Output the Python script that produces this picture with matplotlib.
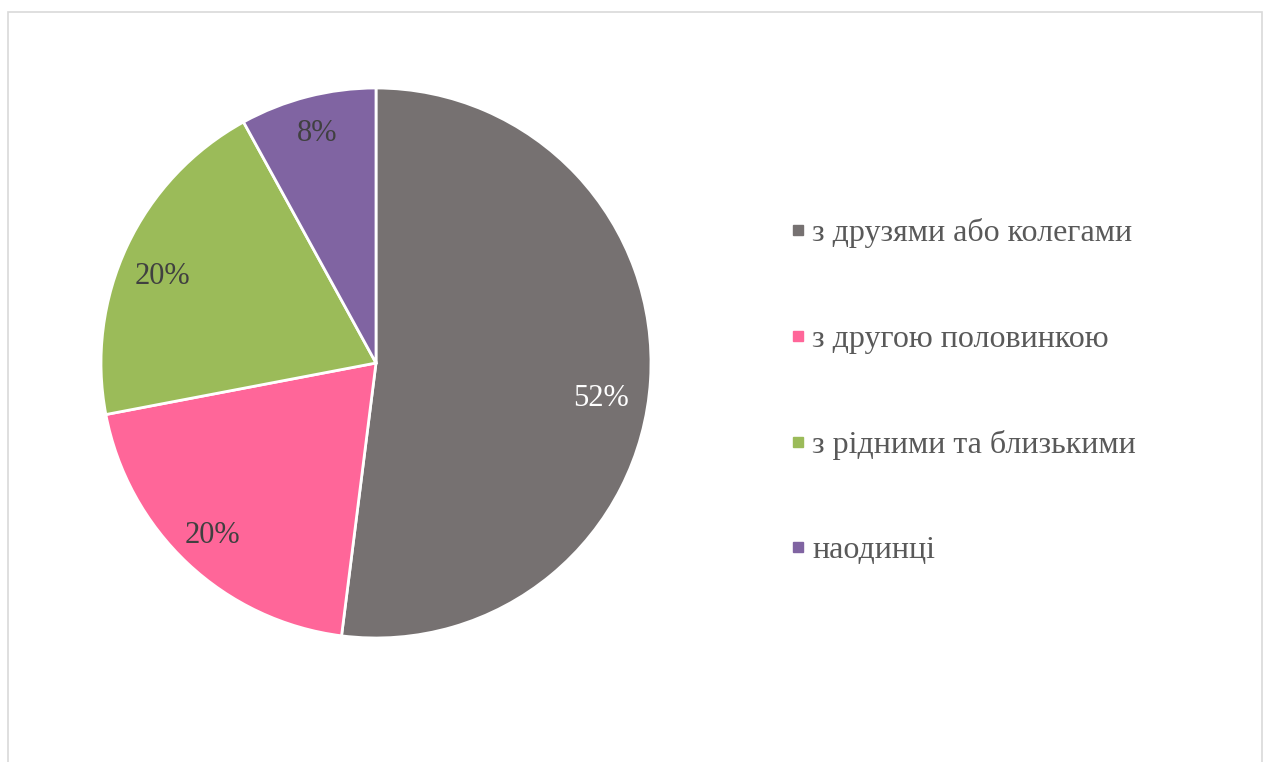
import matplotlib
matplotlib.use("Agg")
import matplotlib.pyplot as plt
from matplotlib.patches import Rectangle
from matplotlib.lines import Line2D
import matplotlib.transforms as mtransforms

categories = ["з друзями або колегами", "з другою половинкою", "з рідними та близькими", "наодинці"]
values = [52, 20, 20, 8]
colors = ["#767171", "#FF6699", "#9BBB59", "#8064A2"]
label_colors = ["white", "#404040", "#404040", "#404040"]
# small label nudges (pixels, right/down) to mimic the original placement
label_nudges = [(-11, 21), (-2, 0), (0, 14), (0, 0)]

plt.rcParams['font.family'] = ['Liberation Serif', 'DejaVu Serif']

W, H = 1269, 762
fig = plt.figure(figsize=(W / 100, H / 100), dpi=100)

# border
fig.add_artist(Rectangle((8 / W, -0.02), 1254 / W, (H - 12) / H + 0.02,
                         transform=fig.transFigure, fill=False,
                         edgecolor="#D9D9D9", linewidth=1.2))

cx, cy, r = 376, 363, 275
ax = fig.add_axes([(cx - r) / W, (H - cy - r) / H, 2 * r / W, 2 * r / H])
wedges, texts, autotexts = ax.pie(values, colors=colors, startangle=90, counterclock=False,
                                  autopct=lambda p: f"{p:.0f}%", pctdistance=0.86,
                                  radius=1.0,
                                  wedgeprops=dict(edgecolor="white", linewidth=2))
for t, c, (dx, dy) in zip(autotexts, label_colors, label_nudges):
    t.set_color(c)
    t.set_fontsize(22)
    t.set_transform(mtransforms.offset_copy(ax.transData, fig=fig,
                                            x=dx, y=-dy, units="dots"))
ax.set_xlim(-1, 1)
ax.set_ylim(-1, 1)
ax.set_aspect("equal")
ax.axis("off")

handles = [Line2D([], [], marker="s", linestyle="none", markersize=7.5,
                  markerfacecolor=c, markeredgecolor=c) for c in colors]
leg = fig.legend(handles, categories, loc="upper left",
                 bbox_to_anchor=(774 / W, (H - 202.5) / H),
                 frameon=False, fontsize=23, labelspacing=2.38,
                 handlelength=0.5, handletextpad=0.2, borderpad=0)
for t in leg.get_texts():
    t.set_color("#595959")

fig.savefig("out.png", dpi=100)
